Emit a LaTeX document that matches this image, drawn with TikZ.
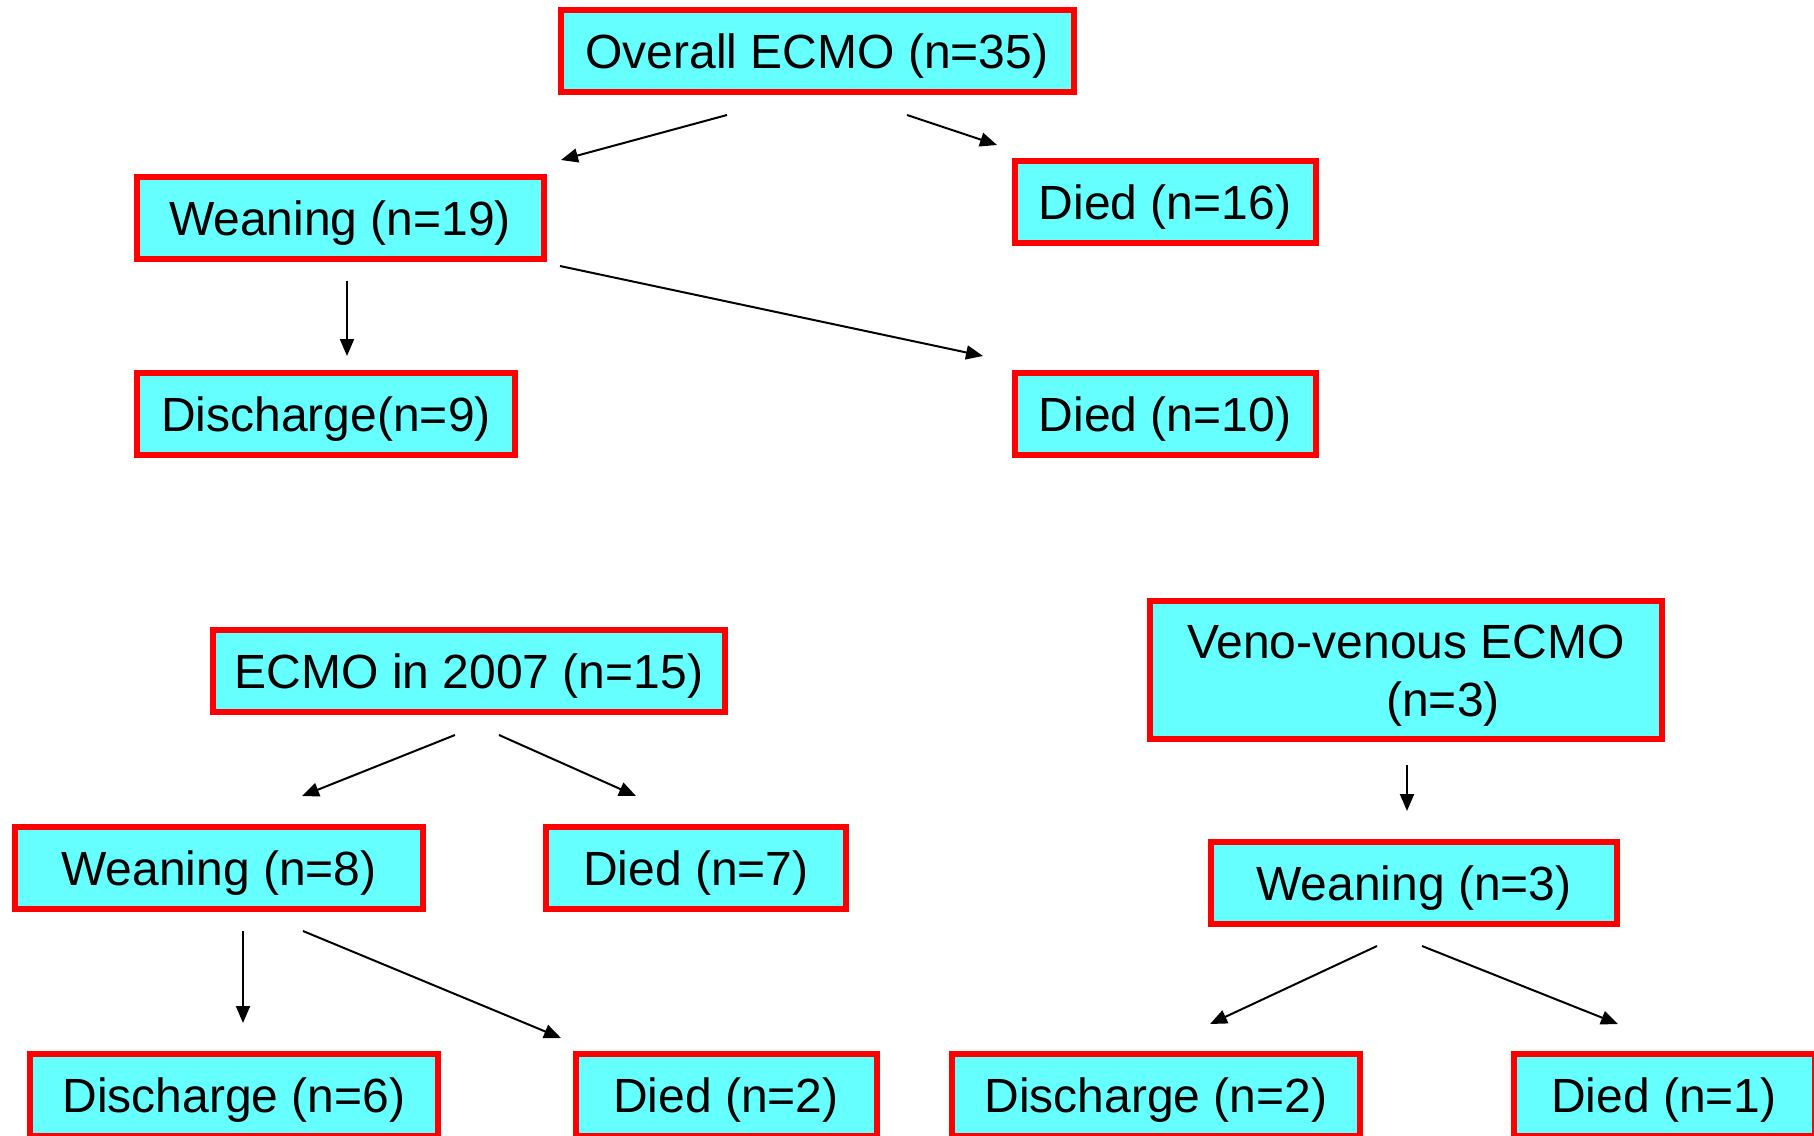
\documentclass[tikz,border=0pt]{standalone}
\usepackage{fontspec}
\setmainfont{Liberation Sans}
\usetikzlibrary{arrows.meta}
\definecolor{boxfill}{HTML}{66FFFF}
\definecolor{boxline}{HTML}{FF0000}
\begin{document}
\begin{tikzpicture}[x=1pt,y=-1pt,
  box/.style={draw=boxline, fill=boxfill, line width=6pt, inner sep=0pt,
    minimum height=82pt, text height=34.4pt, text depth=0pt,
    font=\fontsize{48}{57.6}\selectfont, text=black},
  arr/.style={line width=2pt, -{Triangle[length=17pt,width=14pt]}}]
\useasboundingbox (0,0) rectangle (1814,1135);
\clip (0,0) rectangle (1814,1135);
% top tree
\node[box, minimum width=513pt] (overall) at (817,51) {Overall ECMO (n=35)};
\node[box, minimum width=407pt] (wean19) at (340,218) {Weaning (n=19)};
\node[box, minimum width=301pt] (died16) at (1165,202) {Died (n=16)};
\node[box, minimum width=378pt] (dis9) at (326,414) {Discharge(n=9)};
\node[box, minimum width=301pt] (died10) at (1165,414) {Died (n=10)};
% 2007 tree
\node[box, minimum width=512pt] (e2007) at (469,671) {ECMO in 2007 (n=15)};
\node[box, minimum width=408pt] (wean8) at (219,868) {Weaning (n=8)};
\node[box, minimum width=300pt] (died7) at (696,868) {Died (n=7)};
\node[box, minimum width=408pt] (dis6) at (234,1095) {Discharge (n=6)};
\node[box, minimum width=301pt] (died2) at (726,1095) {Died (n=2)};
% veno-venous tree
\node[box, minimum width=512pt, minimum height=138pt, text height=92pt, text depth=0pt, align=center] (vv) at (1406,670)
  {Veno-venous ECMO\\\hspace*{74pt}(n=3)};
\node[box, minimum width=406pt] (wean3) at (1414,883) {Weaning (n=3)};
\node[box, minimum width=408pt] (dis2) at (1156,1095) {Discharge (n=2)};
\node[box, minimum width=301pt] (died1) at (1664,1095) {Died (n=1)};
% arrow end points
\coordinate (a1s) at (727,115);  \coordinate (a1e) at (561,160);
\coordinate (a2s) at (907,115);  \coordinate (a2e) at (997,145);
\coordinate (a3s) at (347,281);  \coordinate (a3e) at (347,356);
\coordinate (a4s) at (560,266);  \coordinate (a4e) at (983,356);
\coordinate (a5s) at (455,735);  \coordinate (a5e) at (302,796);
\coordinate (a6s) at (499,735);  \coordinate (a6e) at (636,796);
\coordinate (a7s) at (1407,765); \coordinate (a7e) at (1407,811);
\coordinate (a8s) at (243,931);  \coordinate (a8e) at (243,1023);
\coordinate (a9s) at (303,931);  \coordinate (a9e) at (561,1038);
\coordinate (a10s) at (1377,946); \coordinate (a10e) at (1210,1024);
\coordinate (a11s) at (1422,946); \coordinate (a11e) at (1618,1024);
\draw[arr] (a1s) -- (a1e);
\draw[arr] (a2s) -- (a2e);
\draw[arr] (a3s) -- (a3e);
\draw[arr] (a4s) -- (a4e);
\draw[arr] (a5s) -- (a5e);
\draw[arr] (a6s) -- (a6e);
\draw[arr] (a7s) -- (a7e);
\draw[arr] (a8s) -- (a8e);
\draw[arr] (a9s) -- (a9e);
\draw[arr] (a10s) -- (a10e);
\draw[arr] (a11s) -- (a11e);
\end{tikzpicture}
\end{document}
